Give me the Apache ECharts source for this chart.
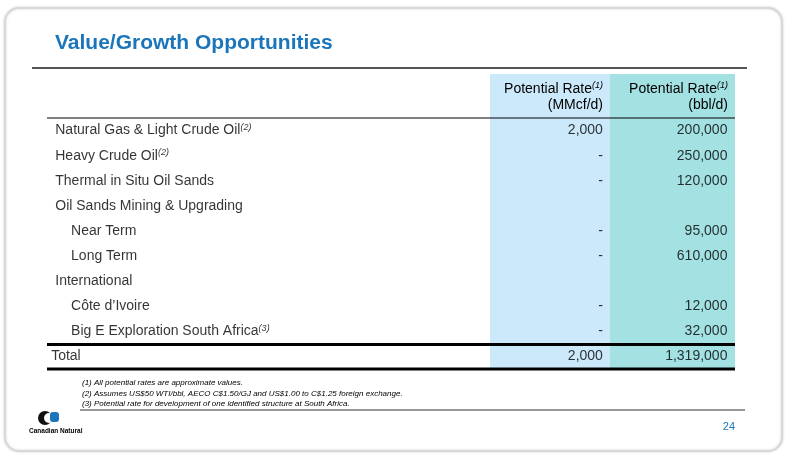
<!DOCTYPE html><html><head><meta charset="utf-8">
<script src="https://cdn.jsdelivr.net/npm/echarts@6/dist/echarts.min.js"></script>
<style>html,body{margin:0;background:#fff}#c{width:793px;height:457px}</style></head><body><div id="c"></div>
<script>
const rows = ['Natural Gas & Light Crude Oil','Heavy Crude Oil','Thermal in Situ Oil Sands','Oil Sands Mining & Upgrading','Near Term','Long Term','International','Côte d\u2019Ivoire','Big E Exploration South Africa','Total'];
const notes = ['2','2','','','','','','','3',''];
const indent = [0,0,0,0,1,1,0,1,1,0];
const gasRate = ['2,000','-','-','','-','-','','-','-','2,000'];
const oilRate = ['200,000','250,000','120,000','','95,000','610,000','','12,000','32,000','1,319,000'];
const footnotes = ['(1) All potential rates are approximate values.','(2) Assumes US$50 WTI/bbl, AECO C$1.50/GJ and US$1.00 to C$1.25 foreign exchange.','(3) Potential rate for development of one identified structure at South Africa.'];
const FONT = '"Liberation Sans Narrow","Liberation Sans",Arial,sans-serif';
const chart = echarts.init(document.getElementById('c'));
const sup = {fontSize:9,fontStyle:'italic',verticalAlign:'top',padding:[0,0,6,0],fontFamily:FONT,color:'#000'};
const labelData = rows.map((r,i)=>({value:[i===9?0.6:(indent[i]?3.5:1.2), r], label:{formatter: notes[i]? r+'{s|('+notes[i]+')}' : r}}));
chart.setOption({
  animation:false,
  grid:{left:47,right:58,top:118,height:251},
  xAxis:{type:'value',min:0,max:100,show:false},
  yAxis:{type:'category',data:rows,inverse:true,show:false},
  series:[
    {type:'scatter',symbolSize:0,data:labelData,silent:true,
     label:{show:true,position:'right',distance:0,fontFamily:FONT,fontSize:14,color:'#000',rich:{s:sup}}},
    {type:'scatter',symbolSize:0,silent:true,data:gasRate.map((v,i)=>[80.8,rows[i],v]),
     label:{show:true,position:'left',distance:0,fontFamily:FONT,fontSize:14,color:'#000',formatter:p=>p.value[2]}},
    {type:'scatter',symbolSize:0,silent:true,data:oilRate.map((v,i)=>[98.9,rows[i],v]),
     label:{show:true,position:'left',distance:0,fontFamily:FONT,fontSize:14,color:'#000',formatter:p=>p.value[2]}}
  ],
  graphic:[
    {type:'rect',z:-10,shape:{x:5,y:8,width:777,height:443,r:14},style:{fill:'#fff',stroke:'#d8d8d8',lineWidth:2,shadowBlur:3,shadowColor:'rgba(0,0,0,0.15)'}},
    {type:'rect',z:-5,shape:{x:490,y:74,width:120,height:294},style:{fill:'#cce9fb'}},
    {type:'rect',z:-5,shape:{x:610,y:74,width:125,height:294},style:{fill:'#a3e1e3'}},
    {type:'text',x:55,y:33,style:{text:'Value/Growth Opportunities',fontFamily:FONT,fontSize:21,fontWeight:'bold',fill:'#1b75bb'}},
    {type:'line',shape:{x1:32,y1:68,x2:747,y2:68},style:{stroke:'#555',lineWidth:2}},
    {type:'line',shape:{x1:47,y1:118,x2:735,y2:118},style:{stroke:'#000',lineWidth:1}},
    {type:'line',shape:{x1:47,y1:344.5,x2:735,y2:344.5},style:{stroke:'#000',lineWidth:3}},
    {type:'line',shape:{x1:47,y1:369,x2:735,y2:369},style:{stroke:'#000',lineWidth:3}},
    {type:'text',x:603,y:81,style:{text:'Potential Rate{s|(1)}\n(MMcf/d)',align:'right',fontFamily:FONT,fontSize:14,lineHeight:16,fill:'#000',rich:{s:sup}}},
    {type:'text',x:728,y:81,style:{text:'Potential Rate{s|(1)}\n(bbl/d)',align:'right',fontFamily:FONT,fontSize:14,lineHeight:16,fill:'#000',rich:{s:sup}}},
    {type:'text',x:82,y:378,style:{text:footnotes.join('\n'),fontFamily:FONT,fontSize:8,fontStyle:'italic',lineHeight:10.5,fill:'#000'}},
    {type:'line',shape:{x1:80,y1:410,x2:745,y2:410},style:{stroke:'#777',lineWidth:1.5}},
    {type:'text',x:735,y:421,style:{text:'24',align:'right',fontFamily:FONT,fontSize:11,fill:'#1b75bb'}},
    {type:'circle',shape:{cx:45,cy:418,r:7},style:{fill:'#111'}},
    {type:'circle',shape:{cx:49,cy:418,r:5},style:{fill:'#fff'}},
    {type:'rect',shape:{x:50,y:412,width:9,height:10,r:3},style:{fill:'#1b75bb'}},
    {type:'text',x:29,y:428,style:{text:'Canadian Natural',fontFamily:FONT,fontSize:6.5,fontWeight:'bold',fill:'#000'}}
  ]
});
</script></body></html>
